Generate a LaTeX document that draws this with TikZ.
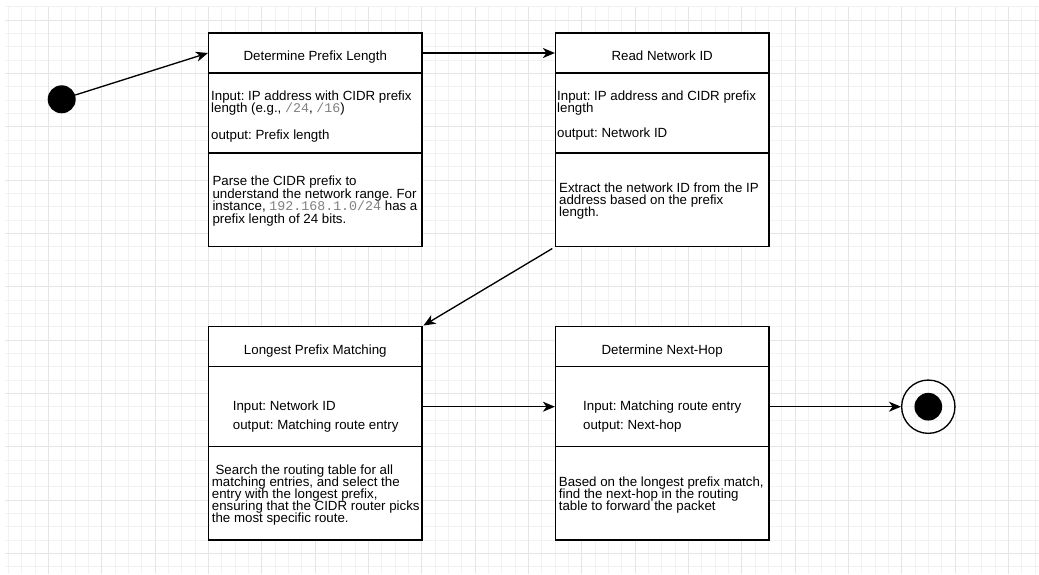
\documentclass[tikz,border=0pt]{standalone}
\usepackage{fontspec}
\setmainfont{Liberation Sans}
\setmonofont{Liberation Mono}
\usetikzlibrary{arrows.meta,positioning}
\newcommand\cidr[1]{{\ttfamily\color{black!50}#1}}
\newcommand\tightlines{\lineskiplimit=-20pt\relax}

\begin{document}
\frenchspacing\tightlines
\begin{tikzpicture}[x=1pt,y=-1pt,
  font=\fontsize{13.3}{12}\selectfont\tightlines,
  cell/.style={draw,line width=1.33pt,minimum width=213.3pt,inner sep=0pt,fill=white},
  head/.style={cell,minimum height=40pt},
  io/.style={cell,minimum height=80pt},
  note/.style={cell,minimum height=93.3pt},
  txt/.style={align=left,inner sep=0pt,anchor=base west},
  ttl/.style={inner sep=0pt,anchor=base},
  gridminor/.style={black!5,line width=0.9pt},
  gridmajor/.style={black!10,line width=0.9pt},
  flow/.style={->,line width=1.33pt},
  >={Stealth[length=12pt,width=10pt,inset=3.5pt]}]
\useasboundingbox[fill=white] (0,0) rectangle (1039,574);
% grid
\foreach \i in {0,...,77} \draw[gridminor] (8.33+13.333*\i,6.67) -- (8.33+13.333*\i,574);
\foreach \j in {0,...,42} \draw[gridminor] (5,6.67+13.333*\j) -- (1039,6.67+13.333*\j);
\foreach \i in {0,...,18} \draw[gridmajor] (48.33+53.333*\i,6.67) -- (48.33+53.333*\i,574);
\foreach \j in {0,...,10} \draw[gridmajor] (5,20+53.333*\j) -- (1039,20+53.333*\j);
% start / stop
\node[circle,fill=black,minimum size=28pt,inner sep=0pt] (start) at (61.7,99.3) {};
\node[circle,draw,line width=1.33pt,minimum size=53.3pt,inner sep=0pt] (stop) at (928.3,406.7) {};
\node[circle,fill=black,minimum size=27.7pt,inner sep=0pt] (stopdot) at (stop) {};
% Determine Prefix Length (text anchored on its last baseline)
\node[head] (dpl) at (315.3,53) {};
\node[io] (dplio) at (315.3,113) {};
\node[note] (dplnote) at (315.3,199.67) {};
\node[ttl] (dplt) at (315.3,60.7) {Determine Prefix Length};
\node[txt] (dpliot) at (211,139.3) {Input: IP address with CIDR prefix\\length (e.g., \cidr{/24}, \cidr{/16})\\[14.5pt]output: Prefix length};
\node[txt] (dplnotet) at (212.3,223.3) {Parse the CIDR prefix to\\[0.5pt]understand the network range. For\\[0.5pt]instance, \cidr{192.168.1.0/24} has a\\[0.5pt]prefix length of 24 bits.};
% Read Network ID
\node[head] (rni) at (662.2,53) {};
\node[io] (rniio) at (662.2,113) {};
\node[note] (rninote) at (662.2,199.67) {};
\node[ttl] (rnit) at (662.2,60.7) {Read Network ID};
\node[txt] (rniiot) at (557,137.7) {Input: IP address and CIDR prefix\\length\\[13pt]output: Network ID};
\node[txt] (rninotet) at (559,216.7) {Extract the network ID from the IP\\address based on the prefix\\length.};
% Longest Prefix Matching
\node[head] (lpm) at (315.3,346.7) {};
\node[io] (lpmio) at (315.3,406.7) {};
\node[note] (lpmnote) at (315.3,493.3) {};
\node[ttl] (lpmt) at (315.3,354.3) {Longest Prefix Matching};
\node[txt] (lpmiot) at (232.7,429.3) {Input: Network ID\\[6.7pt]output: Matching route entry};
\node[txt] (lpmnotet) at (211.7,522.7) {\ Search the routing table for all\\matching entries, and select the\\entry with the longest prefix,\\ensuring that the CIDR router picks\\the most specific route.};
% Determine Next-Hop
\node[head] (dnh) at (662.2,346.7) {};
\node[io] (dnhio) at (662.2,406.7) {};
\node[note] (dnhnote) at (662.2,493.3) {};
\node[ttl] (dnht) at (662.2,354.3) {Determine Next-Hop};
\node[txt] (dnhiot) at (583,429.3) {Input: Matching route entry\\[6.7pt]output: Next-hop};
\node[txt] (dnhnotet) at (558.7,510) {Based on the longest prefix match,\\find the next-hop in the routing\\table to forward the packet};
% flow
\draw[flow] (start) -- (dpl.west);
\draw[flow] (dpl.east) -- (rni.west);
\draw[flow,shorten <=3pt,shorten >=1pt] (rninote.south west) -- (lpm.north east);
\draw[flow] (lpmio.east) -- (dnhio.west);
\draw[flow] (dnhio.east) -- (stop);
\end{tikzpicture}
\end{document}
